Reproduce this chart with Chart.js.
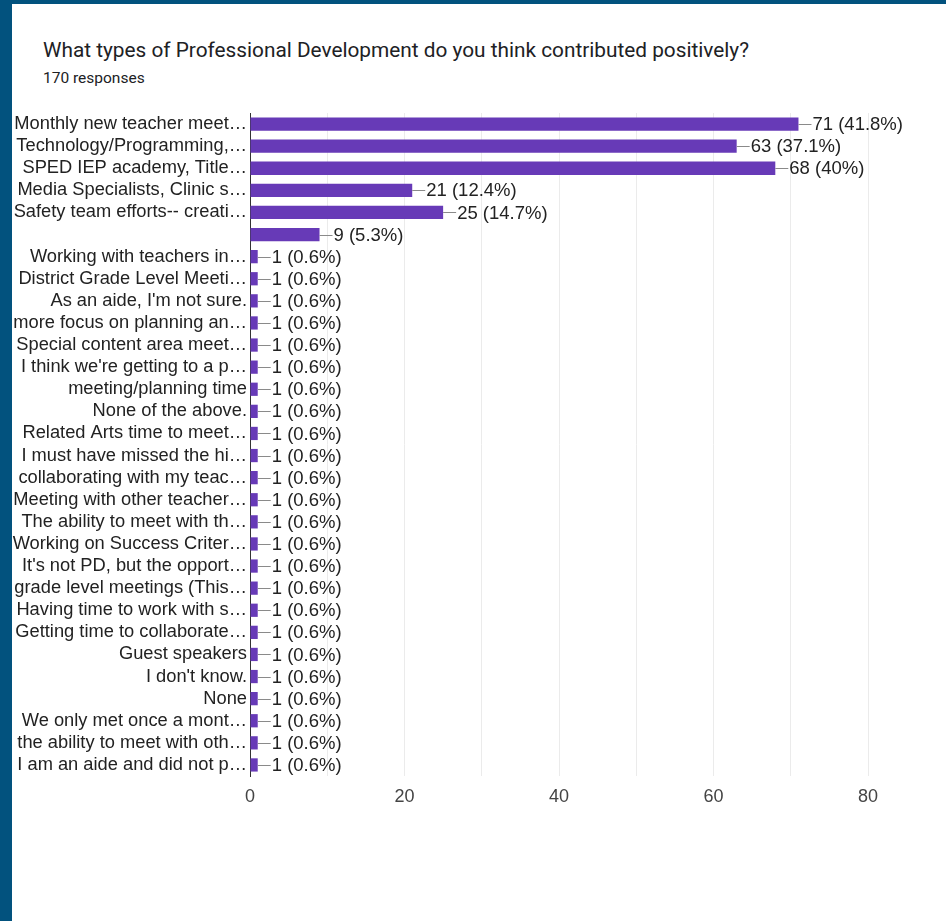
<!DOCTYPE html>
<html>
<head>
<meta charset="utf-8">
<script src="https://cdn.jsdelivr.net/npm/chart.js@4.4.1/dist/chart.umd.min.js"></script>
<style>
  html, body { margin: 0; padding: 0; width: 946px; height: 921px; overflow: hidden; background: #02527e; }
  #card { position: absolute; left: 12px; top: 4px; right: 0; bottom: 0; background: #ffffff; }
  #title { position: absolute; left: 43px; top: 38px; font-family: Roboto, "Noto Sans", sans-serif; font-size: 20.8px; color: #202124; white-space: nowrap; }
  #sub { position: absolute; left: 43px; top: 69px; font-family: Roboto, "Noto Sans", sans-serif; font-size: 15.5px; color: #202124; white-space: nowrap; }
  #wrap { position: absolute; left: 0; top: 0; width: 946px; height: 921px; }
</style>
</head>
<body>
<div id="card"></div>
<div id="title">What types of Professional Development do you think contributed positively?</div>
<div id="sub">170 responses</div>
<div id="wrap"><canvas id="c" width="946" height="921"></canvas></div>
<script>
const categories = [
  "Monthly new teacher meet\u2026",
  "Technology/Programming,\u2026",
  "SPED IEP academy, Title\u2026",
  "Media Specialists, Clinic s\u2026",
  "Safety team efforts-- creati\u2026",
  "",
  "Working with teachers in\u2026",
  "District Grade Level Meeti\u2026",
  "As an aide, I'm not sure.",
  "more focus on planning an\u2026",
  "Special content area meet\u2026",
  "I think we're getting to a p\u2026",
  "meeting/planning time",
  "None of the above.",
  "Related Arts time to meet\u2026",
  "I must have missed the hi\u2026",
  "collaborating with my teac\u2026",
  "Meeting with other teacher\u2026",
  "The ability to meet with th\u2026",
  "Working on Success Criter\u2026",
  "It's not PD, but the opport\u2026",
  "grade level meetings (This\u2026",
  "Having time to work with s\u2026",
  "Getting time to collaborate\u2026",
  "Guest speakers",
  "I don't know.",
  "None",
  "We only met once a mont\u2026",
  "the ability to meet with oth\u2026",
  "I am an aide and did not p\u2026"
];
const counts = [71, 63, 68, 21, 25, 9, 1, 1, 1, 1, 1, 1, 1, 1, 1, 1, 1, 1, 1, 1, 1, 1, 1, 1, 1, 1, 1, 1, 1, 1];
const percentLabels = ["41.8%", "37.1%", "40%", "12.4%", "14.7%", "5.3%", "0.6%", "0.6%", "0.6%", "0.6%", "0.6%", "0.6%", "0.6%", "0.6%", "0.6%", "0.6%", "0.6%", "0.6%", "0.6%", "0.6%", "0.6%", "0.6%", "0.6%", "0.6%", "0.6%", "0.6%", "0.6%", "0.6%", "0.6%", "0.6%"];
const xTicks = [0, 20, 40, 60, 80];

const LABEL_FONT = '"Liberation Sans", Arial, sans-serif';

const valueLabels = {
  id: 'valueLabels',
  afterDatasetsDraw(chart) {
    const ctx = chart.ctx;
    const xs = chart.scales.x, ys = chart.scales.y;
    ctx.save();
    ctx.font = '18.5px ' + LABEL_FONT;
    ctx.textBaseline = 'middle';
    ctx.textAlign = 'left';
    counts.forEach((v, i) => {
      const x = xs.getPixelForValue(v);
      const y = ys.getPixelForValue(i);
      ctx.strokeStyle = '#8a8a8a';
      ctx.lineWidth = 1;
      ctx.beginPath();
      ctx.moveTo(x, Math.round(y) + 0.5);
      ctx.lineTo(x + 13, Math.round(y) + 0.5);
      ctx.stroke();
      ctx.fillStyle = '#222222';
      ctx.fillText(v + ' (' + percentLabels[i] + ')', x + 14, y + 1);
    });
    ctx.restore();
  }
};

new Chart(document.getElementById('c'), {
  type: 'bar',
  data: {
    labels: categories,
    datasets: [{
      data: counts,
      backgroundColor: '#673ab7',
      borderWidth: 0,
      barPercentage: 0.6,
      categoryPercentage: 1.0
    }]
  },
  options: {
    indexAxis: 'y',
    responsive: false,
    animation: false,
    events: [],
    layout: { padding: { top: 113, right: 78, left: 0, bottom: 0 } },
    plugins: { legend: { display: false }, tooltip: { enabled: false } },
    scales: {
      x: {
        min: 0, max: 80,
        afterBuildTicks(scale) {
          const t = [];
          for (let v = 0; v <= 80; v += 10) t.push({ value: v });
          scale.ticks = t;
        },
        afterFit(scale) { scale.height = 145; },
        grid: { color: '#ebebeb', drawTicks: false, lineWidth: 1 },
        border: { display: false },
        ticks: {
          padding: 10,
          color: '#444444',
          font: { family: LABEL_FONT, size: 18 },
          callback: (v) => (xTicks.includes(v) ? String(v) : '')
        }
      },
      y: {
        afterFit(scale) { scale.width = 250; },
        grid: { display: false, drawTicks: false },
        border: { display: true, color: '#333333', width: 1 },
        ticks: {
          autoSkip: false,
          padding: 3,
          color: '#222222',
          font: { family: LABEL_FONT, size: 18.3 }
        }
      }
    }
  },
  plugins: [valueLabels]
});
</script>
</body>
</html>
